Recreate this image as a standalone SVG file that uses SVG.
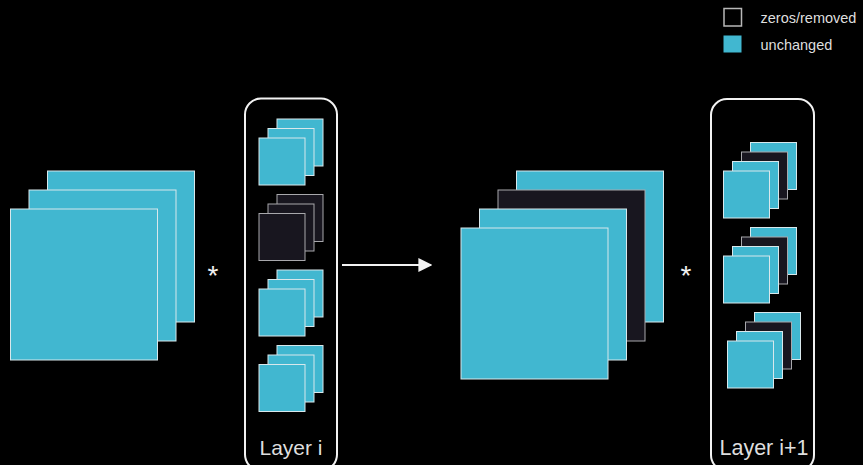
<svg xmlns="http://www.w3.org/2000/svg" width="863" height="465" viewBox="0 0 863 465">
  <defs>
    <style>
      .on { fill: #41b7d0; stroke: #d8e8ec; stroke-width: 1; }
      .off { fill: #18161f; stroke: #a8a8ac; stroke-width: 1; }
      .frame { fill: none; stroke: #f2f2f2; stroke-width: 2; }
      .lbl { font-family: "Liberation Sans", Arial, sans-serif; fill: #dedede; }
      .leg { font-family: "Liberation Sans", Arial, sans-serif; font-size: 14.5px; fill: #dedede; }
      .op { font-family: "Liberation Sans", Arial, sans-serif; font-size: 28px; fill: #f2f2f2; text-anchor: middle; }
      .wire { stroke: #f2f2f2; stroke-width: 2; fill: none; }
    </style>
    <marker id="head" viewBox="0 0 10 10" refX="9" refY="5" markerWidth="7" markerHeight="7" markerUnits="strokeWidth" orient="auto">
      <path d="M0,0 L10,5 L0,10 Z" fill="#f2f2f2"/>
    </marker>
    <!-- small 3-slice kernel stack, front slice at (0,0) -->
    <g id="k3on">
      <rect class="on" x="18" y="-19" width="46" height="47"/>
      <rect class="on" x="9" y="-9.5" width="46" height="47"/>
      <rect class="on" x="0" y="0" width="46" height="47"/>
    </g>
    <g id="k3off">
      <rect class="off" x="18" y="-19" width="46" height="47"/>
      <rect class="off" x="9" y="-9.5" width="46" height="47"/>
      <rect class="off" x="0" y="0" width="46" height="47"/>
    </g>
    <!-- small 4-slice kernel stack with second slice removed -->
    <g id="k4">
      <rect class="on" x="27" y="-28.5" width="46" height="47"/>
      <rect class="off" x="18" y="-19" width="46" height="47"/>
      <rect class="on" x="9" y="-9.5" width="46" height="47"/>
      <rect class="on" x="0" y="0" width="46" height="47"/>
    </g>
  </defs>

  <rect width="863" height="465" fill="#000"/>

  <!-- legend -->
  <g id="legend">
    <rect x="724" y="8.5" width="17.5" height="17.5" fill="#000" stroke="#b8b8b8" stroke-width="1.5"/>
    <text class="leg" x="760.5" y="23">zeros/removed</text>
    <rect x="723.5" y="35.5" width="18" height="17" fill="#41b7d0"/>
    <text class="leg" x="760.5" y="49.5">unchanged</text>
  </g>

  <!-- input feature maps -->
  <g id="input">
    <rect class="on" x="47.5" y="171" width="147" height="151"/>
    <rect class="on" x="29" y="190" width="147" height="151"/>
    <rect class="on" x="10.5" y="209" width="147" height="151"/>
  </g>

  <text class="op" x="213" y="285">*</text>

  <!-- layer i kernels -->
  <g id="layer-i">
    <rect class="frame" x="245" y="98.5" width="92" height="372" rx="16"/>
    <use href="#k3on" x="259" y="138"/>
    <use href="#k3off" x="259" y="213.5"/>
    <use href="#k3on" x="259" y="289"/>
    <use href="#k3on" x="259" y="364.5"/>
    <text class="lbl" x="291" y="455" font-size="21" text-anchor="middle">Layer i</text>
  </g>

  <!-- output feature maps -->
  <g id="output">
    <rect class="on" x="516.5" y="171" width="147" height="151"/>
    <rect class="off" x="498" y="190" width="147" height="151"/>
    <rect class="on" x="479.5" y="209" width="147" height="151"/>
    <rect class="on" x="461" y="228" width="147" height="151"/>
  </g>

  <text class="op" x="686" y="285">*</text>

  <!-- layer i+1 kernels -->
  <g id="layer-i1">
    <rect class="frame" x="711" y="99" width="103" height="372" rx="16"/>
    <use href="#k4" x="723.5" y="171"/>
    <use href="#k4" x="723.5" y="256"/>
    <use href="#k4" x="727.5" y="341"/>
    <text class="lbl" x="764" y="455" font-size="21.5" text-anchor="middle">Layer i+1</text>
  </g>

  <!-- connectors -->
  <g id="connectors">
    <line class="wire" x1="342" y1="265" x2="431" y2="265" marker-end="url(#head)"/>
  </g>
</svg>
